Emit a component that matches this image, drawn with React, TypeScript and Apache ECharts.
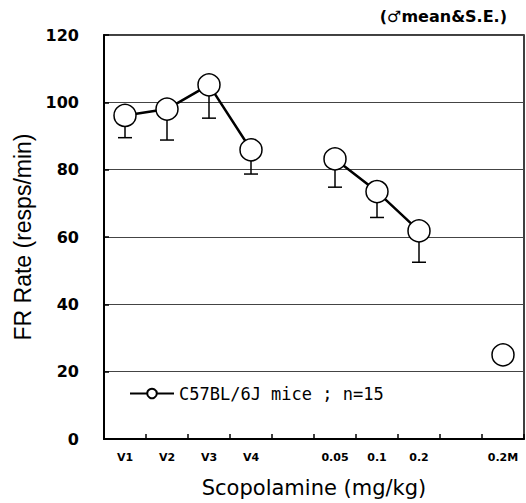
import React, { useEffect, useRef } from "react";
import * as echarts from "echarts";

const categories = ["V1", "V2", "V3", "V4", "", "0.05", "0.1", "0.2", "", "0.2M"];
const meanValues: (number | null)[] = [96.1, 98.0, 105.2, 85.9, null, 83.2, 73.5, 61.8, null, 25.0];
const lowerSE: (number | null)[] = [89.5, 88.8, 95.3, 78.7, null, 74.8, 65.8, 52.5, null, null];
const yTicks = { min: 0, max: 120, interval: 20 };
const seriesName = "C57BL/6J mice ; n=15";
const noteText = "(♂mean&S.E.)";
const xTitle = "Scopolamine (mg/kg)";
const yTitle = "FR Rate (resps/min)";

export default function App() {
  const ref = useRef<HTMLDivElement>(null);
  useEffect(() => {
    if (!ref.current) return;
    const chart = echarts.init(ref.current, null, { renderer: "svg" });
    const errData: number[][] = [];
    categories.forEach((_, i) => {
      const m = meanValues[i];
      const lo = lowerSE[i];
      if (m != null && lo != null) errData.push([i, m, lo]);
    });
    chart.setOption({
      animation: false,
      backgroundColor: "#fff",
      grid: {
        left: 104,
        right: 2,
        top: 35,
        bottom: 64,
        show: true,
        borderColor: "#000",
        borderWidth: 1.5,
      },
      legend: {
        data: [seriesName],
        left: 129,
        top: 385,
        padding: 0,
        itemWidth: 44,
        itemHeight: 12,
        textStyle: {
          fontFamily: "DejaVu Sans Mono",
          fontSize: 17,
          color: "#000",
        },
      },
      graphic: [
        {
          type: "text",
          right: 19,
          top: 8,
          style: {
            text: noteText,
            font: "bold 16px 'DejaVu Sans'",
            fill: "#000",
          },
        },
      ],
      xAxis: {
        type: "category",
        data: categories,
        boundaryGap: true,
        name: xTitle,
        nameLocation: "middle",
        nameGap: 38,
        nameTextStyle: {
          fontFamily: "DejaVu Sans",
          fontSize: 21,
          color: "#000",
        },
        axisLine: { show: true, lineStyle: { color: "#000", width: 2 } },
        axisTick: {
          show: true,
          inside: true,
          length: 5,
          interval: 0,
          lineStyle: { color: "#000", width: 1.5 },
        },
        axisLabel: {
          interval: 0,
          margin: 13,
          fontFamily: "DejaVu Sans",
          fontWeight: "bold",
          fontSize: 11,
          color: "#000",
        },
        splitLine: { show: false },
      },
      yAxis: {
        type: "value",
        min: yTicks.min,
        max: yTicks.max,
        interval: yTicks.interval,
        name: yTitle,
        nameLocation: "middle",
        nameGap: 70,
        nameTextStyle: {
          fontFamily: "Liberation Sans",
          fontSize: 23,
          color: "#000",
        },
        axisLine: { show: true, lineStyle: { color: "#000", width: 2 } },
        axisTick: {
          show: true,
          inside: true,
          length: 5,
          lineStyle: { color: "#000", width: 1.5 },
        },
        axisLabel: {
          margin: 25,
          fontFamily: "DejaVu Sans",
          fontWeight: "bold",
          fontSize: 16,
          color: "#000",
        },
        splitLine: { show: true, lineStyle: { color: "#444", width: 1.2 } },
      },
      series: [
        {
          type: "custom",
          name: "SE",
          data: errData,
          z: 1,
          renderItem: (params: any, api: any) => {
            const x = api.value(0);
            const m = api.value(1);
            const lo = api.value(2);
            const p1 = api.coord([x, m]);
            const p2 = api.coord([x, lo]);
            return {
              type: "group",
              children: [
                {
                  type: "line",
                  shape: { x1: p1[0], y1: p1[1], x2: p2[0], y2: p2[1] },
                  style: { stroke: "#000", lineWidth: 1.5 },
                },
                {
                  type: "line",
                  shape: { x1: p2[0] - 7, y1: p2[1], x2: p2[0] + 7, y2: p2[1] },
                  style: { stroke: "#000", lineWidth: 1.5 },
                },
              ],
            };
          },
        },
        {
          type: "line",
          name: seriesName,
          data: meanValues,
          connectNulls: false,
          z: 3,
          symbol: "circle",
          symbolSize: 22,
          showSymbol: true,
          showAllSymbol: true,
          lineStyle: { color: "#000", width: 2.5 },
          itemStyle: { color: "#fff", borderColor: "#000", borderWidth: 1.5 },
        },
      ],
    });
    return () => chart.dispose();
  }, []);
  return (
    <div
      ref={ref}
      style={{ position: "fixed", left: 0, top: 0, width: 526, height: 503 }}
    />
  );
}
